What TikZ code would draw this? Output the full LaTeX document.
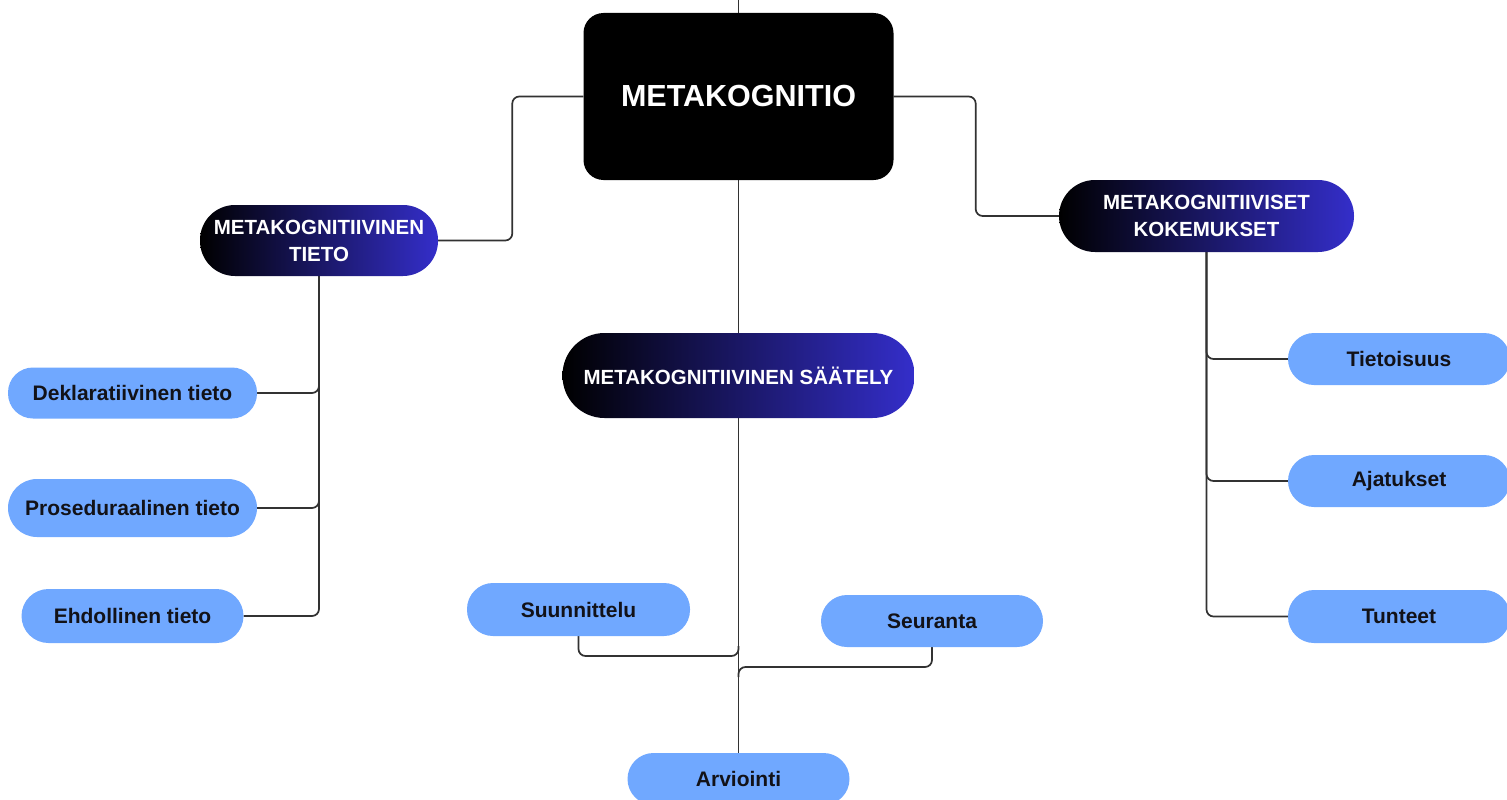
\documentclass[tikz,border=0pt]{standalone}
\usepackage{fontspec}
\setmainfont{Liberation Sans}
\usetikzlibrary{backgrounds}
\definecolor{pillblue}{RGB}{112,168,255}
\definecolor{gradblue}{RGB}{52,46,202}
\definecolor{linegray}{RGB}{50,50,50}
\definecolor{pilltext}{RGB}{18,18,24}
\begin{document}
\begin{tikzpicture}[x=1pt,y=-1pt,
  conn/.style={draw=linegray,line width=1.7pt,rounded corners=7pt},
  rootbox/.style={fill=black,rounded corners=20pt,text=white,
    font=\fontsize{30.5}{36}\selectfont\bfseries,
    minimum width=310pt,minimum height=167pt,inner sep=0pt},
  darkpill/.style={left color=black,right color=gradblue,text=white,
    font=\fontsize{20.5}{27}\selectfont\bfseries,align=center,inner sep=0pt,
    rounded corners=#1},
  darkpill/.default=35pt,
  lightpill/.style={fill=pillblue,text=pilltext,
    font=\fontsize{21}{24}\selectfont\bfseries,inner sep=0pt,
    rounded corners=#1},
  lightpill/.default=26pt
]
\clip (0,0) rectangle (1507,800);
\useasboundingbox (0,0) rectangle (1507,800);

% nodes
\node[rootbox] (root) at (738.5,96.5) {METAKOGNITIO};
\node[darkpill=35pt,minimum width=238pt,minimum height=71pt] (mtieto) at (319,240.5) {METAKOGNITIIVINEN\\TIETO};
\node[darkpill=36pt,minimum width=295pt,minimum height=72pt] (mkok) at (1206.5,216) {METAKOGNITIIVISET\\KOKEMUKSET};
\node[darkpill=42pt,minimum width=352pt,minimum height=85pt] (msaat) at (738.5,375.5) {METAKOGNITIIVINEN SÄÄTELY};

\node[lightpill=25pt,minimum width=249pt,minimum height=51pt] (dekl) at (132.5,393) {Deklaratiivinen tieto};
\node[lightpill=29pt,minimum width=249pt,minimum height=58pt] (pros) at (132.5,508) {Proseduraalinen tieto};
\node[lightpill=27pt,minimum width=222pt,minimum height=54pt] (ehd) at (132.5,616) {Ehdollinen tieto};

\node[lightpill,minimum width=222pt,minimum height=52pt] (tiet) at (1399,359) {Tietoisuus};
\node[lightpill,minimum width=222pt,minimum height=52pt] (ajat) at (1399,481) {Ajatukset};
\node[lightpill,minimum width=222pt,minimum height=53pt] (tunt) at (1399,616.5) {Tunteet};

\node[lightpill,minimum width=223pt,minimum height=53pt] (suun) at (578.5,609.5) {Suunnittelu};
\node[lightpill,minimum width=222pt,minimum height=52pt] (seur) at (932,621) {Seuranta};
\node[lightpill,minimum width=222pt,minimum height=52pt] (arv) at (738.5,779) {Arviointi};

\begin{scope}[on background layer]
  \fill[white] (0,0) rectangle (1507,800);
  \coordinate (topend) at (738.5,0);
  \coordinate (j1) at (738.5,656);
  \coordinate (j2) at (738.5,667);
  % central trunk
  \draw[conn] (topend) -- (arv.north);
  % main branches
  \draw[conn] (root.west) -- ++(-71,0) |- (mtieto.east);
  \draw[conn] (root.east) -- ++(82,0) |- (mkok.west);
  % left group
  \draw[conn] (mtieto.south) |- (dekl.east);
  \draw[conn] (mtieto.south) |- (pros.east);
  \draw[conn] (mtieto.south) |- (ehd.east);
  % right group
  \draw[conn] (mkok.south) |- (tiet.west);
  \draw[conn] (mkok.south) |- (ajat.west);
  \draw[conn] (mkok.south) |- (tunt.west);
  % bottom group
  \draw[conn] (suun.south) |- (j1) -- ++(0,-10);
  \draw[conn] (seur.south) |- (j2) -- ++(0,10);
\end{scope}
\end{tikzpicture}
\end{document}
